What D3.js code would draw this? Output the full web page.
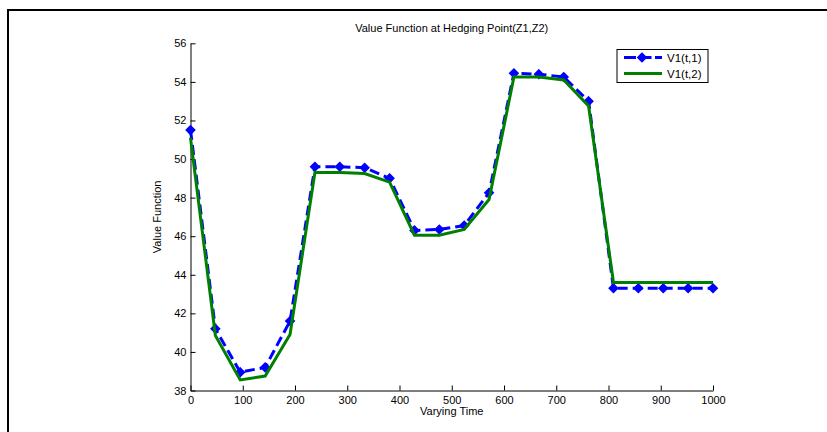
<!DOCTYPE html>
<html>
<head>
<meta charset="utf-8">
<script src="https://cdn.jsdelivr.net/npm/d3@7"></script>
<style>
  html, body { margin: 0; padding: 0; background: #fff; }
  svg { display: block; font-family: "Liberation Sans", Arial, Helvetica, sans-serif; }
</style>
</head>
<body>
<svg id="chart" width="827" height="432"></svg>
<script>
// Sample times along the horizon
const times = [0, 47.6, 95.2, 142.9, 190.5, 238.1, 285.7, 333.3, 381.0, 428.6, 476.2,
               523.8, 571.4, 619.0, 666.7, 714.3, 761.9, 809.5, 857.1, 904.8, 952.4, 1000];
// Value function for state 1 and state 2
const v1State1 = [51.5, 41.2, 38.95, 39.2, 41.6, 49.6, 49.6, 49.55, 49.0, 46.3, 46.35,
                  46.55, 48.25, 54.45, 54.4, 54.25, 53.0, 43.3, 43.3, 43.3, 43.3, 43.3];
const v1State2 = [51.1, 40.85, 38.55, 38.75, 40.9, 49.3, 49.3, 49.25, 48.8, 46.05, 46.05,
                  46.35, 47.9, 54.25, 54.25, 54.1, 52.75, 43.6, 43.6, 43.6, 43.6, 43.6];
const xTicks = [0, 100, 200, 300, 400, 500, 600, 700, 800, 900, 1000];
const yTicks = [38, 40, 42, 44, 46, 48, 50, 52, 54, 56];
const seriesNames = ["V1(t,1)", "V1(t,2)"];

const svg = d3.select("#chart");

// Figure frame
svg.append("rect")
  .attr("x", 8).attr("y", 10)
  .attr("width", 830).attr("height", 440)
  .attr("fill", "none").attr("stroke", "#000").attr("stroke-width", 2);

const plotLeft = 190.5, plotRight = 713, plotTop = 43.3, plotBottom = 390.5;
const x = d3.scaleLinear().domain([0, 1000]).range([plotLeft, plotRight]);
const y = d3.scaleLinear().domain([38, 56]).range([plotBottom, plotTop]);

// Axes with inward ticks
const xAxis = d3.axisBottom(x).tickValues(xTicks).tickFormat(d3.format("d"))
  .tickSizeInner(-5).tickSizeOuter(0).tickPadding(9);
const yAxis = d3.axisLeft(y).tickValues(yTicks).tickFormat(d3.format("d"))
  .tickSizeInner(-5).tickSizeOuter(0).tickPadding(4);

const gx = svg.append("g").attr("transform", `translate(0,${plotBottom})`).call(xAxis);
const gy = svg.append("g").attr("transform", `translate(${plotLeft},0)`).call(yAxis);
[gx, gy].forEach(g => {
  g.select(".domain").attr("stroke", "#000").attr("stroke-width", 1);
  g.selectAll(".tick line").attr("stroke", "#000");
  g.selectAll(".tick text").attr("fill", "#000").attr("font-size", 11)
    .attr("font-family", "Liberation Sans, Arial, sans-serif");
});
gx.selectAll(".tick text").attr("dy", "0.45em");

const line = d3.line().x((d, i) => x(times[i])).y(d => y(d));

// State 1: dashed blue with diamond markers
svg.append("path")
  .datum(v1State1)
  .attr("d", line)
  .attr("fill", "none")
  .attr("stroke", "#0000ff")
  .attr("stroke-width", 3)
  .attr("stroke-dasharray", "10,5");

const diamond = d3.symbol().type(d3.symbolDiamond2).size(46);
svg.append("g").selectAll("path")
  .data(v1State1)
  .join("path")
  .attr("transform", (d, i) => `translate(${x(times[i])},${y(d)})`)
  .attr("d", diamond)
  .attr("fill", "#0000ff")
  .attr("stroke", "#0000ff")
  .attr("stroke-width", 1.5);

// State 2: solid green
svg.append("path")
  .datum(v1State2)
  .attr("d", line)
  .attr("fill", "none")
  .attr("stroke", "#008000")
  .attr("stroke-width", 3);

// Titles
svg.append("text")
  .attr("x", (plotLeft + plotRight) / 2).attr("y", 32)
  .attr("text-anchor", "middle").attr("font-size", 11)
  .text("Value Function at Hedging Point(Z1,Z2)");

svg.append("text")
  .attr("x", (plotLeft + plotRight) / 2).attr("y", 415)
  .attr("text-anchor", "middle").attr("font-size", 11)
  .text("Varying Time");

svg.append("text")
  .attr("transform", `translate(161,${(plotTop + plotBottom) / 2}) rotate(-90)`)
  .attr("text-anchor", "middle").attr("font-size", 11)
  .text("Value Function");

// Legend
const lg = svg.append("g");
lg.append("rect")
  .attr("x", 617).attr("y", 49.5).attr("width", 91).attr("height", 33)
  .attr("fill", "#fff").attr("stroke", "#000").attr("stroke-width", 1);
const rows = [57.5, 73.5];
lg.append("line")
  .attr("x1", 624).attr("x2", 662).attr("y1", rows[0]).attr("y2", rows[0])
  .attr("stroke", "#0000ff").attr("stroke-width", 3).attr("stroke-dasharray", "12,3.5");
lg.append("path")
  .attr("transform", `translate(642,${rows[0]})`)
  .attr("d", diamond)
  .attr("fill", "#0000ff").attr("stroke", "#0000ff").attr("stroke-width", 1.5);
lg.append("line")
  .attr("x1", 624).attr("x2", 662).attr("y1", rows[1]).attr("y2", rows[1])
  .attr("stroke", "#008000").attr("stroke-width", 3);
seriesNames.forEach((name, i) => {
  lg.append("text")
    .attr("x", 667).attr("y", rows[i]).attr("dy", "0.35em")
    .attr("font-size", 11.5).text(name);
});
</script>
</body>
</html>
